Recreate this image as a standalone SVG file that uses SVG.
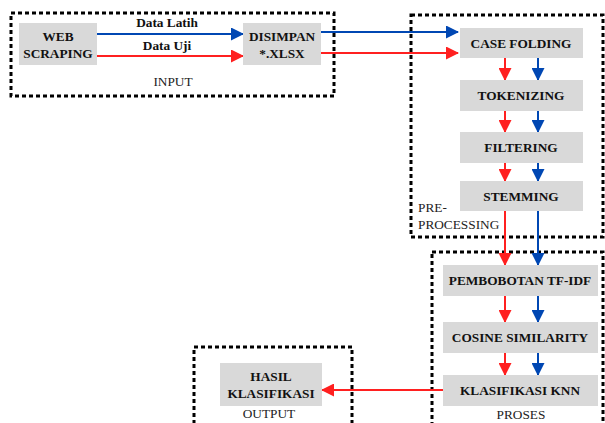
<svg xmlns="http://www.w3.org/2000/svg" width="605" height="423" viewBox="0 0 605 423">
<defs>
<marker id="ab" markerWidth="13" markerHeight="13" refX="12" refY="6.5" orient="auto" markerUnits="userSpaceOnUse"><path d="M0,0 L13,6.5 L0,13 Z" fill="#0047b3"/></marker>
<marker id="ar" markerWidth="13" markerHeight="13" refX="12" refY="6.5" orient="auto" markerUnits="userSpaceOnUse"><path d="M0,0 L13,6.5 L0,13 Z" fill="#ff2020"/></marker>
</defs>
<style>
.grp{fill:none;stroke:#000;stroke-width:3;stroke-dasharray:4 3}
.box{fill:#d9d9d9}
text{font-family:'Liberation Serif',serif}
.t{font-weight:bold;font-size:13.3px;fill:#111;text-anchor:middle}
.g{font-size:13.3px;fill:#222;text-anchor:middle}
.s{text-anchor:start}
.b{stroke:#0047b3;stroke-width:2;fill:none;marker-end:url(#ab)}
.r{stroke:#ff2020;stroke-width:2;fill:none;marker-end:url(#ar)}
</style>
<rect width="605" height="423" fill="#fff"/>
<g id="groups">
<rect class="grp" x="11" y="13" width="323" height="83"/>
<rect class="grp" x="411" y="15" width="192" height="222"/>
<rect class="grp" x="432" y="252" width="171" height="175"/>
<rect class="grp" x="194" y="347" width="158" height="80"/>
<text class="g" x="173" y="86">INPUT</text>
<text class="g s" x="418" y="212">PRE-</text>
<text class="g s" x="418" y="229">PROCESSING</text>
<text class="g" x="521" y="419">PROSES</text>
<text class="g" x="269" y="418">OUTPUT</text>
</g>
<g id="connectors">
<line class="b" x1="97" y1="34" x2="243" y2="34"/>
<line class="r" x1="97" y1="56" x2="243" y2="56"/>
<text class="t" x="167" y="27">Data Latih</text>
<text class="t" x="167" y="50">Data Uji</text>
<line class="b" x1="321" y1="32" x2="458" y2="32"/>
<line class="r" x1="321" y1="53" x2="458" y2="53"/>
<line class="r" x1="505" y1="58" x2="505" y2="80"/>
<line class="b" x1="538" y1="58" x2="538" y2="80"/>
<line class="r" x1="505" y1="111" x2="505" y2="132"/>
<line class="b" x1="538" y1="111" x2="538" y2="132"/>
<line class="r" x1="505" y1="163" x2="505" y2="181"/>
<line class="b" x1="538" y1="163" x2="538" y2="181"/>
<line class="r" x1="505" y1="211" x2="505" y2="265"/>
<line class="b" x1="538" y1="211" x2="538" y2="265"/>
<line class="r" x1="505" y1="296" x2="505" y2="322"/>
<line class="b" x1="538" y1="296" x2="538" y2="322"/>
<line class="r" x1="505" y1="353" x2="505" y2="375"/>
<line class="b" x1="538" y1="353" x2="538" y2="375"/>
<line class="r" x1="443" y1="390" x2="322" y2="390"/>
</g>
<g id="web-scraping"><rect class="box" x="19" y="23" width="78" height="42"/><text class="t" x="58" y="41">WEB</text><text class="t" x="58" y="58">SCRAPING</text></g>
<g id="disimpan"><rect class="box" x="243" y="23" width="78" height="42"/><text class="t" x="282" y="41">DISIMPAN</text><text class="t" x="282" y="58">*.XLSX</text></g>
<g id="case-folding"><rect class="box" x="460" y="28" width="123" height="30"/><text class="t" x="521" y="48">CASE FOLDING</text></g>
<g id="tokenizing"><rect class="box" x="460" y="80" width="123" height="31"/><text class="t" x="521" y="100">TOKENIZING</text></g>
<g id="filtering"><rect class="box" x="460" y="132" width="123" height="31"/><text class="t" x="521" y="152">FILTERING</text></g>
<g id="stemming"><rect class="box" x="460" y="181" width="123" height="30"/><text class="t" x="521" y="201">STEMMING</text></g>
<g id="pembobotan"><rect class="box" x="443" y="265" width="155" height="31"/><text class="t" x="520" y="285">PEMBOBOTAN TF-IDF</text></g>
<g id="cosine"><rect class="box" x="443" y="322" width="155" height="31"/><text class="t" x="520" y="342">COSINE SIMILARITY</text></g>
<g id="knn"><rect class="box" x="443" y="375" width="155" height="31"/><text class="t" x="520" y="395">KLASIFIKASI KNN</text></g>
<g id="hasil"><rect class="box" x="220" y="363" width="102" height="43"/><text class="t" x="271" y="381">HASIL</text><text class="t" x="271" y="398">KLASIFIKASI</text></g>
</svg>
